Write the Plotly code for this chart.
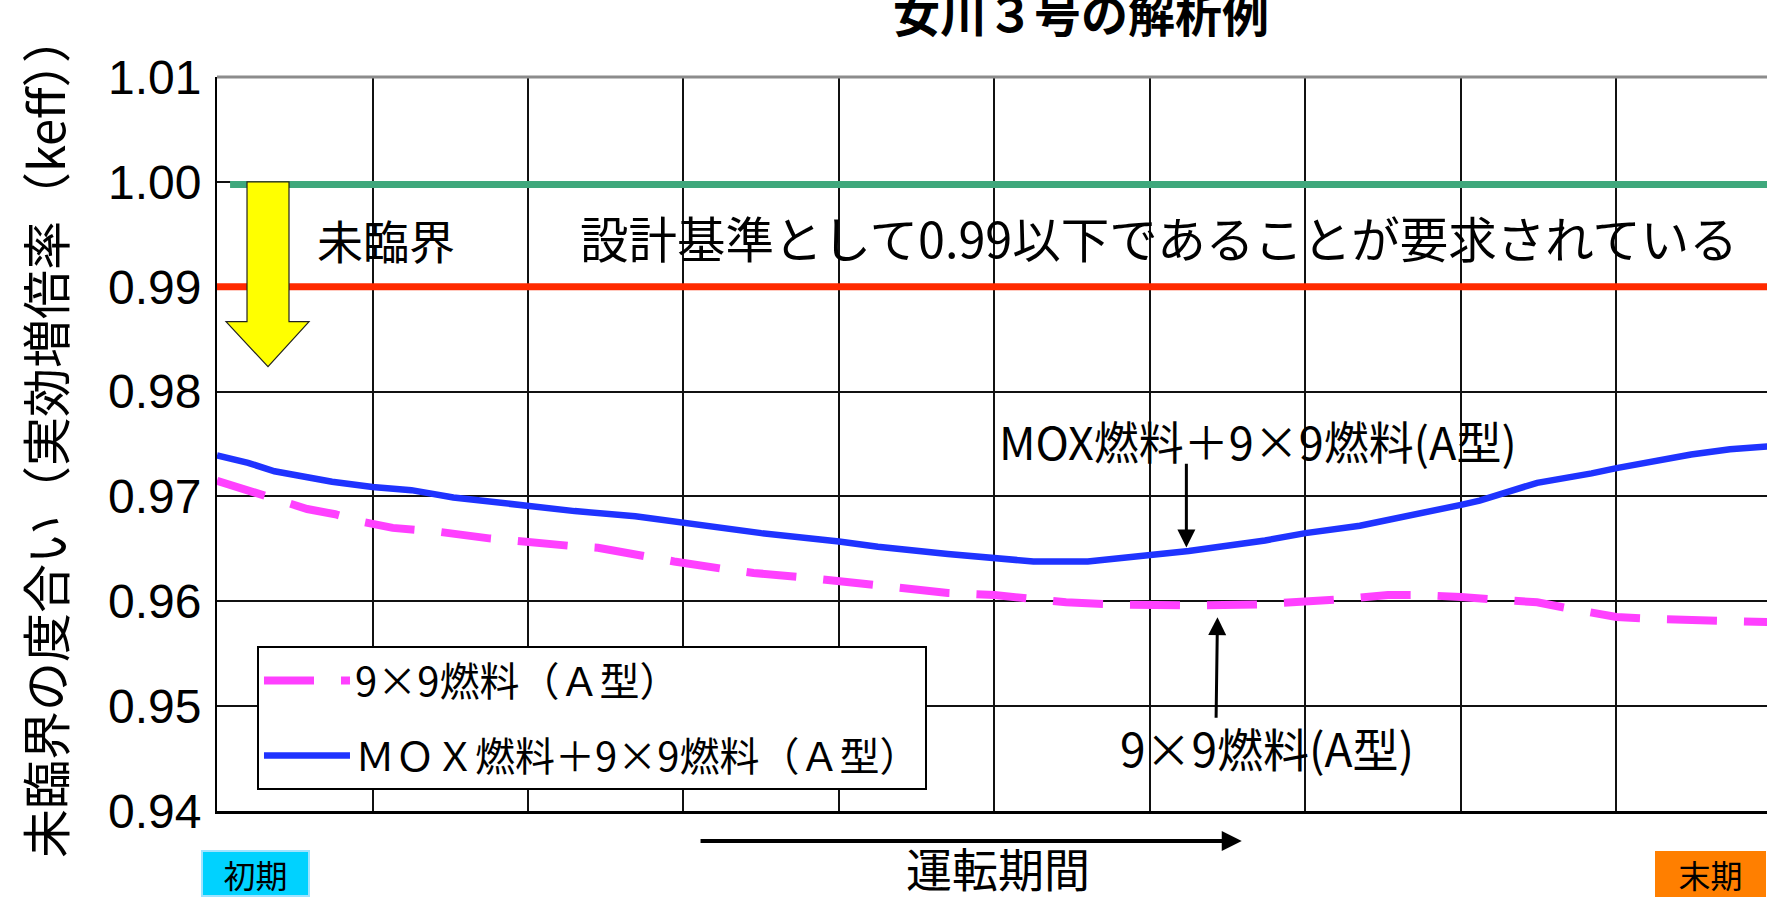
import plotly.graph_objects as go

# ---- data -------------------------------------------------------------
# operating period (grid units from start to end of cycle)
mox_x = [0, 0.2, 0.37, 0.55, 0.74, 1.0, 1.25, 1.52, 1.83, 2.0, 2.3, 2.69, 3.0, 3.15,
         3.35, 3.5, 4.0, 4.25, 4.7, 5.0, 5.25, 5.6, 6.0, 6.25, 6.74, 7.0, 7.35, 7.63,
         7.78, 8.0, 8.12, 8.49, 8.84, 9.0, 9.48, 9.73, 10.0]
mox_keff = [0.9739, 0.9732, 0.9724, 0.9719, 0.9714, 0.9709, 0.9706, 0.9699, 0.9694,
            0.9690, 0.9686, 0.9681, 0.9675, 0.9672, 0.9669, 0.9665, 0.9657, 0.9652,
            0.9645, 0.9642, 0.9638, 0.9638, 0.9644, 0.9648, 0.9658, 0.9665, 0.9672,
            0.9680, 0.9685, 0.9692, 0.9696, 0.9713, 0.9722, 0.9727, 0.9740, 0.9745,
            0.9748]

a9_x = [0, 0.25, 0.43, 0.58, 0.76, 0.93, 1.13, 1.27, 1.44, 1.75, 1.95, 2.26, 2.45,
        2.77, 2.94, 3.25, 3.45, 3.76, 3.93, 4.26, 4.7, 5.0, 5.27, 5.46, 5.76, 6.0,
        6.28, 6.7, 7.0, 7.24, 7.53, 7.74, 8.0, 8.26, 8.49, 8.77, 9.0, 9.27, 9.73, 10.0]
a9_keff = [0.9715, 0.9704, 0.9696, 0.9688, 0.9683, 0.9676, 0.9670, 0.9669, 0.9666,
           0.9660, 0.9658, 0.9653, 0.9651, 0.9642, 0.9638, 0.9631, 0.9627, 0.9623,
           0.9620, 0.9615, 0.9608, 0.9606, 0.9601, 0.9599, 0.9597, 0.9596, 0.9596,
           0.9597, 0.9599, 0.9602, 0.9606, 0.9606, 0.9604, 0.9602, 0.9599, 0.9591,
           0.9585, 0.9583, 0.9581, 0.9580]

series_names = ["9×9燃料（Ａ型）", "ＭＯＸ燃料＋9×9燃料（Ａ型）"]

y_ticks = [0.94, 0.95, 0.96, 0.97, 0.98, 0.99, 1.00, 1.01]
y_ticktext = ["0.94", "0.95", "0.96", "0.97", "0.98", "0.99", "1.00", "1.01"]
x_grid = [0, 1, 2, 3, 4, 5, 6, 7, 8, 9]

critical_limit = 1.00
design_limit = 0.99

# ---- styling ----------------------------------------------------------
JP = "Noto Sans CJK JP, Noto Sans, sans-serif"
NUM = "Liberation Sans, Arial, sans-serif"
MAGENTA = "#ff40ff"
BLUE = "#1f33ff"
GREEN = "#3fa87c"
RED = "#ff2a00"

fig = go.Figure()

fig.add_trace(go.Scatter(
    x=a9_x, y=a9_keff, mode="lines", name=series_names[0],
    line=dict(color=MAGENTA, width=8, dash="50px,27px"),
    legendgroup="a9",
))
fig.add_trace(go.Scatter(
    x=mox_x, y=mox_keff, mode="lines", name=series_names[1],
    line=dict(color=BLUE, width=6.5),
    legendgroup="mox",
))

shapes = [
    # criticality (keff = 1.00) and design criterion (0.99)
    dict(type="line", xref="x", yref="y", x0=0.084, x1=10, y0=critical_limit - 0.00025,
         y1=critical_limit - 0.00025, line=dict(color=GREEN, width=7), layer="between"),
    dict(type="line", xref="x", yref="y", x0=0, x1=10, y0=design_limit, y1=design_limit,
         line=dict(color=RED, width=7), layer="between"),
    # top frame edge
    dict(type="line", xref="paper", yref="paper", x0=0, x1=1, y0=1, y1=1,
         line=dict(color="#8c8c8c", width=3)),
    # yellow "subcritical" arrow
    dict(type="path", xref="x", yref="y",
         path="M 0.193,1.0 L 0.463,1.0 L 0.463,0.98667 L 0.592,0.98667 "
              "L 0.328,0.98237 L 0.058,0.98667 L 0.193,0.98667 Z",
         fillcolor="#ffff00", line=dict(color="#222222", width=1.2), layer="above"),
]

annotations = [
    dict(text="女川３号の解析例", xref="paper", yref="paper", x=0.5577, y=1.089,
         xanchor="center", yanchor="middle", showarrow=False,
         font=dict(family=JP, size=47, color="black", weight="bold")),
    dict(text="未臨界の度合い（実効増倍率（keff））", xref="paper", yref="paper",
         x=-0.1115, y=0.511, xanchor="center", yanchor="middle", textangle=-90,
         showarrow=False, font=dict(family=JP, size=49, color="black")),
    dict(text="未臨界", xref="x", yref="y", x=1.087, y=0.99455, showarrow=False,
         xanchor="center", yanchor="middle", font=dict(family=JP, size=46, color="black")),
    dict(text="設計基準として0.99以下であることが要求されている", xref="x", yref="y",
         x=6.055, y=0.99474, showarrow=False, xanchor="center", yanchor="middle",
         font=dict(family=JP, size=48.5, color="black")),
    dict(text="MOX燃料＋9×9燃料(A型)", xref="x", yref="y", x=6.695, y=0.97538,
         showarrow=False, xanchor="center", yanchor="middle",
         font=dict(family=JP, size=45, color="black")),
    dict(text="9×9燃料(A型)", xref="x", yref="y", x=6.752, y=0.9461,
         showarrow=False, xanchor="center", yanchor="middle",
         font=dict(family=JP, size=46, color="black")),
    # pointer arrows to each curve
    dict(text="", xref="x", yref="y", axref="x", ayref="y",
         x=6.234, y=0.96514, ax=6.234, ay=0.97326, showarrow=True,
         arrowhead=2, arrowsize=1.2, arrowwidth=3, arrowcolor="black"),
    dict(text="", xref="x", yref="y", axref="x", ayref="y",
         x=6.434, y=0.95848, ax=6.425, ay=0.94876, showarrow=True,
         arrowhead=2, arrowsize=1.2, arrowwidth=3, arrowcolor="black"),
    # operating period
    dict(text="", xref="x", yref="paper", axref="x", ayref="pixel",
         x=6.59, y=-0.0409, ax=3.10, ay=0, showarrow=True,
         arrowhead=2, arrowsize=1.0, arrowwidth=4, arrowcolor="black"),
    dict(text="運転期間", xref="paper", yref="paper", x=0.5039, y=-0.076,
         xanchor="center", yanchor="middle", showarrow=False,
         font=dict(family=JP, size=46, color="black")),
    dict(text="初期", xref="paper", yref="paper", x=0.02484, y=-0.0851,
         xanchor="center", yanchor="middle", showarrow=False, width=103, height=41,
         bgcolor="#00d2ff", bordercolor="#9fe3ff", borderwidth=2,
         font=dict(family=JP, size=32, color="black")),
    dict(text="末期", xref="paper", yref="paper", x=0.9635, y=-0.0858,
         xanchor="center", yanchor="middle", showarrow=False, width=109, height=44,
         bgcolor="#ff7f00", borderwidth=0,
         font=dict(family=JP, size=32, color="black")),
]

fig.update_layout(
    width=1767, height=897,
    margin=dict(l=217, r=0, t=77, b=86),
    paper_bgcolor="white", plot_bgcolor="white",
    shapes=shapes, annotations=annotations,
    showlegend=True,
    legend=dict(x=0.0258, y=0.2248, xanchor="left", yanchor="top",
                bgcolor="white", bordercolor="black", borderwidth=2,
                font=dict(family=JP, size=40, color="black"),
                tracegroupgap=20, itemwidth=86,
                entrywidth=667, entrywidthmode="pixels"),
    xaxis=dict(range=[0, 9.968], tickvals=x_grid, showticklabels=False,
               showgrid=True, gridcolor="#111111", gridwidth=1.5,
               showline=True, linecolor="black", linewidth=3,
               zeroline=False, ticks=""),
    yaxis=dict(range=[0.94, 1.01], tickvals=y_ticks, ticktext=y_ticktext,
               showgrid=True, gridcolor="#111111", gridwidth=1.5,
               showline=True, linecolor="black", linewidth=2,
               zeroline=False, ticks="", ticklabelstandoff=4,
               tickfont=dict(family=NUM, size=48, color="black")),
)

fig.write_html("out.html")
